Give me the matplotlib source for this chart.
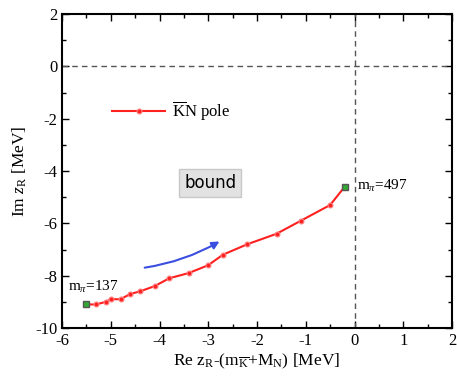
import matplotlib
matplotlib.use("Agg")
import matplotlib.pyplot as plt
from matplotlib.patches import FancyArrowPatch
from matplotlib.ticker import MultipleLocator

plt.rcParams['font.family'] = ['Liberation Serif', 'DejaVu Serif']
plt.rcParams['mathtext.fontset'] = 'custom'
plt.rcParams['mathtext.rm'] = 'Liberation Serif'
plt.rcParams['mathtext.it'] = 'Liberation Serif:italic'
plt.rcParams['axes.unicode_minus'] = False

# pole trajectory (m_pi from 137 to 497)
re_z = [-5.5, -5.3, -5.1, -5.0, -4.8, -4.6, -4.4, -4.1, -3.8, -3.4,
        -3.0, -2.7, -2.2, -1.6, -1.1, -0.5, -0.2]
im_z = [-9.1, -9.1, -9.0, -8.9, -8.9, -8.7, -8.6, -8.4, -8.1, -7.9,
        -7.6, -7.2, -6.8, -6.4, -5.9, -5.3, -4.6]

fig = plt.figure(figsize=(4.57, 3.8), dpi=100)
ax = fig.add_axes([62/457, 1-328/380, 390/457, 314/380])

ax.axhline(0, color='#555555', ls=(0, (4, 3)), lw=1)
ax.axvline(0, color='#555555', ls=(0, (4, 3)), lw=1)

ax.plot(re_z, im_z, color='#ff2020', lw=1.5, marker='o', ms=3.5,
        mec='#ff8080', mew=0.8, label=r'$\overline{\mathrm{K}}$N pole')
ax.plot([re_z[0], re_z[-1]], [im_z[0], im_z[-1]], ls='none', marker='s',
        ms=5, mfc='#33aa33', mec='#555555', mew=1)

ax.text(-5.88, -8.45, r'm$_\pi$=137', fontsize=11, va='center')
ax.text(0.05, -4.57, r'm$_\pi$=497', fontsize=11, va='center')

arr = FancyArrowPatch((-4.36, -7.71), (-2.72, -6.64),
                      connectionstyle='arc3,rad=0.1', arrowstyle='-|>',
                      mutation_scale=11, color='#3a4ee0', lw=1.5)
ax.add_patch(arr)

ax.text(-2.96, -4.46, 'bound', family='DejaVu Sans', fontsize=12,
        ha='center', va='center',
        bbox=dict(boxstyle='square,pad=0.3', fc='#e2e2e2', ec='#c8c8c8'))

ax.legend(loc='center left', bbox_to_anchor=(0.09, 0.69), frameon=False,
          fontsize=12, handlelength=3.2, handletextpad=0.4)

ax.set_xlim(-6, 2)
ax.set_ylim(-10, 2)
ax.xaxis.set_major_locator(MultipleLocator(1))
ax.xaxis.set_minor_locator(MultipleLocator(0.5))
ax.yaxis.set_major_locator(MultipleLocator(2))
ax.yaxis.set_minor_locator(MultipleLocator(1))
ax.tick_params(which='both', direction='in', top=True, right=True,
               labelsize=12, width=1)
ax.tick_params(which='major', length=5)
ax.tick_params(which='minor', length=3)
for s in ax.spines.values():
    s.set_linewidth(1.5)

ax.set_xlabel(r'Re z$_\mathrm{R}$-(m$_{\overline{\mathrm{K}}}$+M$_\mathrm{N}$) [MeV]',
              fontsize=12.5, labelpad=2)
ax.set_ylabel(r'Im $z_\mathrm{R}$ [MeV]', fontsize=12.5, labelpad=4)

fig.savefig('out.png', dpi=100)
